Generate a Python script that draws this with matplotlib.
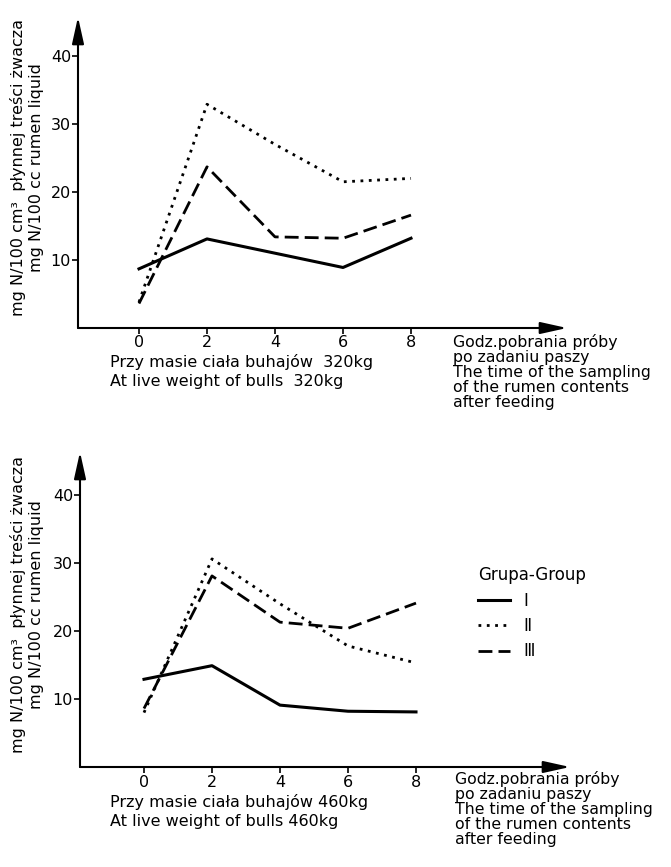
import matplotlib
matplotlib.use('Agg')
import matplotlib.pyplot as plt
from matplotlib.lines import Line2D

# hours after feeding
hours = [0, 2, 4, 6, 8]
y_ticks = [10, 20, 30, 40]

# mg N/100 cc rumen liquid, bulls 320 kg
top_I = [8.7, 13.1, 11.0, 8.9, 13.2]
top_II = [3.8, 32.9, 27.0, 21.5, 22.0]
top_III = [3.6, 23.7, 13.4, 13.2, 16.6]

# bulls 460 kg
bot_I = [12.9, 14.9, 9.1, 8.2, 8.1]
bot_II = [8.0, 30.6, 24.0, 17.8, 15.3]
bot_III = [8.6, 28.1, 21.3, 20.4, 24.1]

group_names = ['Ⅰ', 'Ⅱ', 'Ⅲ']
ylabel = 'mg N/100 cm³  płynnej treści żwacza\nmg N/100 cc rumen liquid'
xnote = ('Godz.pobrania próby\npo zadaniu paszy\nThe time of the sampling\n'
         'of the rumen contents\nafter feeding')
top_caption = 'Przy masie ciała buhajów  320kg\nAt live weight of bulls  320kg'
bot_caption = 'Przy masie ciała buhajów 460kg\nAt live weight of bulls 460kg'

W, H = 671, 867
plt.rcParams['font.family'] = ['DejaVu Sans']
plt.rcParams['font.size'] = 11
fig = plt.figure(figsize=(W / 100, H / 100), dpi=100)


def fx(x):
    return x / W


def fy(y):
    return 1 - y / H


styles = [dict(ls='-', lw=2.2), dict(ls=(0, (1, 2)), lw=2.0), dict(ls=(0, (5, 2.2)), lw=2.0)]


def panel(left, right, bottom, top, x0px, ppu_x, ppu_y, series, caption, note_xy, cap_xy, pad):
    ax = fig.add_axes([fx(left), fy(bottom), fx(right - left), (bottom - top) / H])
    ax.set_xlim((left - x0px) / ppu_x, (right - x0px) / ppu_x)
    ax.set_ylim(0, (bottom - top) / ppu_y)
    for s in ax.spines.values():
        s.set_visible(False)
    arrow = dict(arrowstyle='-|>,head_length=0.9,head_width=0.2',
                 lw=1.5, color='k', mutation_scale=18, shrinkA=0, shrinkB=0)
    ax.annotate('', xy=(1, 0), xytext=(0, 0), xycoords='axes fraction', arrowprops=arrow)
    ax.annotate('', xy=(0, 1), xytext=(0, 0), xycoords='axes fraction', arrowprops=arrow)
    ax.set_xticks(hours)
    ax.set_yticks(y_ticks)
    ax.tick_params(direction='out', length=4, width=1.2, labelsize=11.5, pad=1)
    ax.tick_params(axis='x', pad=pad)
    for vals, st in zip(series, styles):
        ax.plot(hours, vals, color='k', clip_on=False, **st)
    fig.text(fx(cap_xy[0]), fy(cap_xy[1]), caption, ha='left', va='top', fontsize=11.5,
             linespacing=1.35)
    fig.text(fx(note_xy[0]), fy(note_xy[1]), xnote, ha='left', va='top', fontsize=11.3,
             linespacing=1.0)
    fig.text(fx(27), fy((top + bottom) / 2 - 5), ylabel, rotation=90, ha='center', va='center',
             multialignment='center', fontsize=11.5, linespacing=1.3)
    return ax


ax1 = panel(78, 567, 328, 17, 139, 34, 6.8, [top_I, top_II, top_III],
            top_caption, (453, 334), (110, 354), 1)
ax2 = panel(80, 570, 767, 452, 144, 34, 6.8, [bot_I, bot_II, bot_III],
            bot_caption, (455, 771), (110, 794), 2)

handles = [Line2D([], [], color='k', **st) for st in styles]
leg = ax2.legend(handles, group_names, title='Grupa-Group', loc='upper left',
                 bbox_to_anchor=(fx(463), fy(551)), bbox_transform=fig.transFigure,
                 frameon=False, handlelength=1.9, fontsize=12, title_fontsize=12,
                 labelspacing=0.45, alignment='left', handletextpad=0.8)

fig.savefig('out.png', dpi=100)
